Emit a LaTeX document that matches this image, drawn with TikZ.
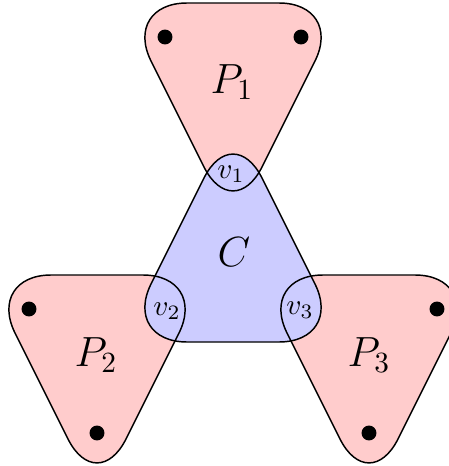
\documentclass[tikz,border=0pt]{standalone}
\usepackage{amsmath}
\usepackage{amssymb}
\usetikzlibrary{positioning}

\begin{document}
\begin{tikzpicture}[
        x=0.012cm,
        y=-0.012cm,
        hedge/.style={
            rounded corners=22.2pt
        },
        dot/.style={
            circle,
            fill,
            inner sep=0pt,
            minimum size=5.1pt
        },
        elabel/.style={font=\Large},
        vlabel/.style={font=\normalsize}
    ]
        \useasboundingbox (0,0) rectangle (449,466);
        % corners of the hyperedges
        \coordinate (P1a) at (122,3);
        \coordinate (P1b) at (344,3);
        \coordinate (P1c) at (233,225);
        \coordinate (P2a) at (-14,275);
        \coordinate (P2b) at (208,275);
        \coordinate (P2c) at (97,497);
        \coordinate (P3a) at (258,275);
        \coordinate (P3b) at (480,275);
        \coordinate (P3c) at (369,497);
        \coordinate (Ca) at (233,120);
        \coordinate (Cb) at (344,342);
        \coordinate (Cc) at (122,342);
        % fills first, outlines on top
        \foreach \e in {P1, P2, P3}
            \fill[hedge, red!20] (\e a) -- (\e b) -- (\e c) -- cycle;
        \fill[hedge, blue!20] (Ca) -- (Cb) -- (Cc) -- cycle;
        \foreach \e in {P1, P2, P3, C}
            \draw[hedge, line width=0.5pt] (\e a) -- (\e b) -- (\e c) -- cycle;
        % vertices
        \node[dot] (x1) at (165,37) {};
        \node[dot] (x2) at (301,37) {};
        \node[dot] (y1) at (29,309) {};
        \node[dot] (y2) at (97,433) {};
        \node[dot] (z1) at (437,309) {};
        \node[dot] (z2) at (369,433) {};
        \node[vlabel] (v1) at (231,174) {$v_1$};
        \node[vlabel] (v2) at (167,311) {$v_2$};
        \node[vlabel] (v3) at (300,310) {$v_3$};
        % labels
        \node[elabel] (P1) at (232,82) {$P_1$};
        \node[elabel] (P2) at (96,355) {$P_2$};
        \node[elabel] (P3) at (369,355) {$P_3$};
        \node[elabel] (C) at (234,252) {$C$};
    \end{tikzpicture}
\end{document}
